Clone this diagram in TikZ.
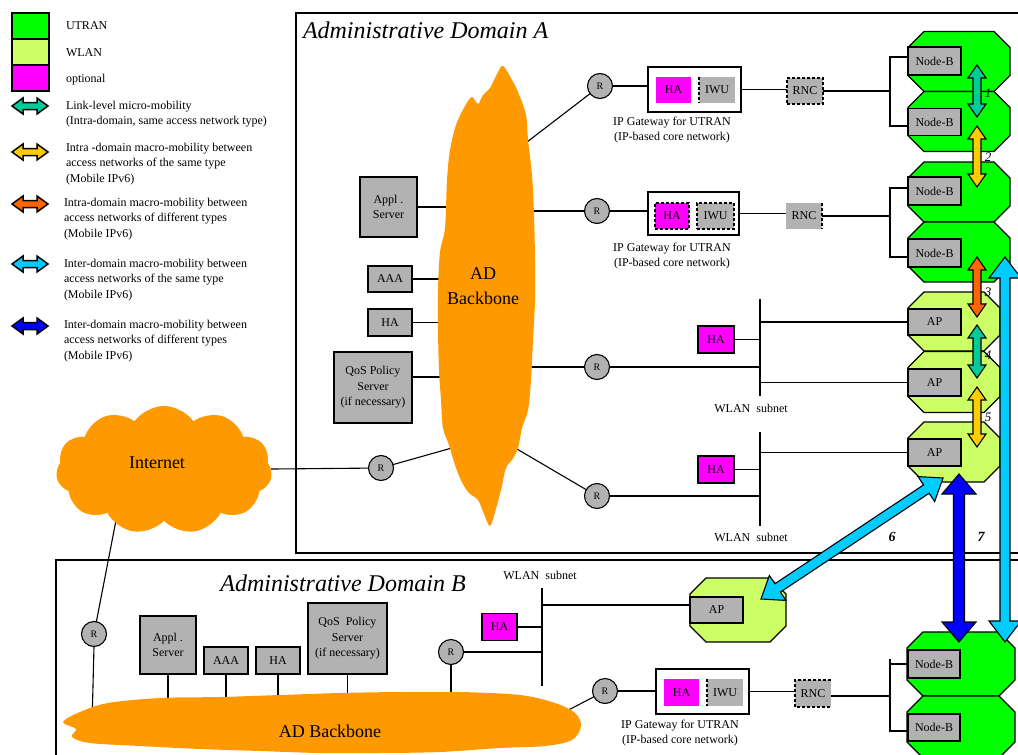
\documentclass[tikz,border=0pt]{standalone}
\usepackage{fontspec}
\setmainfont{Liberation Serif}
\usetikzlibrary{calc,shapes.symbols}

\definecolor{utran}{RGB}{0,255,0}
\definecolor{wlan}{RGB}{204,255,102}
\definecolor{optc}{RGB}{255,0,255}
\definecolor{srvgray}{RGB}{178,178,178}
\definecolor{bbone}{RGB}{255,153,0}
\definecolor{mteal}{RGB}{0,204,153}
\definecolor{myellow}{RGB}{255,204,0}
\definecolor{morange}{RGB}{255,102,0}
\definecolor{msky}{RGB}{0,204,255}
\definecolor{mblue}{RGB}{0,0,255}

\newcommand\lblfont{\fontsize{12}{15.5}\selectfont}
\newcommand\rtrfont{\fontsize{10}{12}\selectfont}
\newcommand\cloudfont{\fontsize{18}{25}\selectfont}
\newcommand\domfont{\fontsize{24}{28}\selectfont\itshape}
\newcommand\numfont{\fontsize{13}{15}\selectfont\itshape}
\newcommand\bnumfont{\fontsize{14}{16}\selectfont\itshape\bfseries}

\pgfdeclarelayer{wires}
\pgfdeclarelayer{clouds}
\pgfsetlayers{wires,clouds,main}

% block double arrow between two named points:
% #1 outline width, #2 fill, #3 from, #4 to, #5 shaft half-width, #6 head half-width, #7 head length
\newcommand\mobarrow[7]{%
  \coordinate (mP) at ($(#3)!#7!(#4)$);
  \coordinate (mQ) at ($(#4)!#7!(#3)$);
  \draw[line width=#1,fill=#2,line join=miter]
    (#3) -- ($(mP)!#6!90:(#4)$) -- ($(mP)!#5!90:(#4)$)
    -- ($(mQ)!#5!-90:(#3)$) -- ($(mQ)!#6!-90:(#3)$) -- (#4)
    -- ($(mQ)!#6!90:(#3)$) -- ($(mQ)!#5!90:(#3)$)
    -- ($(mP)!#5!-90:(#4)$) -- ($(mP)!#6!-90:(#4)$) -- cycle;}

% radio cell outline: octagon inscribed in the frame of node #1, fill #2, corner cut #3
\newcommand\cellshape[3]{%
  \draw[line width=1.1pt,fill=#2,line join=miter]
    ($(#1.north west)+(#3,0)$) -- ($(#1.north east)+(-#3,0)$)
    -- ($(#1.north east)+(0,#3)$) -- ($(#1.south east)+(0,-#3)$)
    -- ($(#1.south east)+(-#3,0)$) -- ($(#1.south west)+(#3,0)$)
    -- ($(#1.south west)+(0,-#3)$) -- ($(#1.north west)+(0,#3)$) -- cycle;}

\begin{document}
\begin{tikzpicture}[x=1pt,y=-1pt,
  every node/.style={inner sep=0pt,outer sep=0pt},
  sz/.style 2 args={minimum width=#1,minimum height=#2},
  srv/.style={draw,line width=1.1pt,fill=srvgray,font=\lblfont,align=center},
  optbox/.style={draw,line width=1.1pt,fill=optc,font=\lblfont},
  optflat/.style={fill=optc,font=\lblfont},
  flat/.style={fill=srvgray,font=\lblfont},
  dashbox/.style={draw,line width=1.6pt,dash pattern=on 3pt off 2pt},
  dashedge/.style={line width=1.6pt,dash pattern=on 3pt off 2pt},
  gw/.style={draw,line width=1.1pt,fill=white},
  rtr/.style={circle,draw,line width=1.1pt,fill=srvgray,minimum size=25pt,font=\rtrfont},
  cellframe/.style={rectangle},
  wire/.style={line width=1.1pt},
  txt/.style={font=\lblfont,align=center},
  leg/.style={font=\lblfont,align=left,anchor=west},
  frame/.style={line width=1.3pt},
  keybox/.style={draw,line width=1.5pt,minimum width=37pt,minimum height=26pt},
  num/.style={font=\numfont},
  bnum/.style={font=\bnumfont},
]
\useasboundingbox (0,0) rectangle (1018,755);
\clip (0,0) rectangle (1018,755);

% ---------- key ----------
\node[keybox,fill=utran] (kU) at (30.5,26) {};
\node[keybox,fill=wlan] (kW) at (30.5,52) {};
\node[keybox,fill=optc] (kO) at (30.5,78) {};
\node[leg] (tU) at (66,26) {UTRAN};
\node[leg] (tW) at (66,53) {WLAN};
\node[leg] (tO) at (66,80) {optional};
\coordinate (k1a) at (12,106); \coordinate (k1b) at (48,106);
\coordinate (k2a) at (12,152); \coordinate (k2b) at (48,152);
\coordinate (k3a) at (12,204); \coordinate (k3b) at (48,204);
\coordinate (k4a) at (12,264); \coordinate (k4b) at (48,264);
\coordinate (k5a) at (12,326); \coordinate (k5b) at (48,326);
\mobarrow{1.5pt}{mteal}{k1a}{k1b}{3.5pt}{8pt}{11pt}
\mobarrow{1.5pt}{myellow}{k2a}{k2b}{3.5pt}{8pt}{11pt}
\mobarrow{1.5pt}{morange}{k3a}{k3b}{3.5pt}{8pt}{11pt}
\mobarrow{1.5pt}{msky}{k4a}{k4b}{3.5pt}{8pt}{11pt}
\mobarrow{1.5pt}{mblue}{k5a}{k5b}{3.5pt}{8pt}{11pt}
\node[leg] (t1) at (66,114) {Link-level micro-mobility\\(Intra-domain, same access network type)};
\node[leg] (t2) at (66,164) {Intra -domain macro-mobility between\\access networks of the same type\\(Mobile IPv6)};
\node[leg] (t3) at (64,219) {Intra-domain macro-mobility between\\access networks of different types\\(Mobile IPv6)};
\node[leg] (t4) at (64,280) {Inter-domain macro-mobility between\\access networks of the same type\\(Mobile IPv6)};
\node[leg] (t5) at (64,341) {Inter-domain macro-mobility between\\access networks of different types\\(Mobile IPv6)};

% ---------- domain frames ----------
\draw[frame] (296,13) rectangle (1040,553);
\draw[frame] (56,560) rectangle (1040,780);
\node[font=\domfont,anchor=west] (domA) at (303,30) {Administrative Domain A};
\node[font=\domfont] (domB) at (343,583) {Administrative Domain B};

% ---------- clouds ----------
\begin{pgfonlayer}{clouds}
\fill[bbone] plot[smooth cycle,tension=0.55] coordinates {
 (503,66) (512,80) (518,92) (526,115) (528,140) (532,175) (534,215) (535,260)
 (535,300) (533,340) (531,380) (528,410) (522,428) (518,448) (512,460) (506,468)
 (501,490) (495,512) (490,526) (484,514) (478,500) (468,492) (460,478) (454,462)
 (449,445) (443,428) (441,400) (439,370) (438,330) (438,290) (440,252) (445,228)
 (447,180) (450,150) (456,125) (465,106) (472,97) (478,104) (483,95) (490,88) (497,74)};
\fill[bbone] plot[smooth cycle,tension=0.55] coordinates {
 (63,722) (80,712) (108,703) (160,698) (220,697) (280,695) (340,693) (400,692)
 (460,692) (520,695) (555,703) (575,713) (581,726) (572,740) (545,746) (500,748)
 (440,752) (380,753) (320,753) (260,751) (200,749) (140,746) (90,743) (72,737) (76,729)};
\node[cloud,cloud puffs=11,cloud puff arc=110,aspect=1.7,fill=bbone,sz={216pt}{128pt}] (inet) at (164,470) {};
\end{pgfonlayer}
\node[font=\cloudfont] (inetT) at (157,463) {Internet};
\node[font=\cloudfont,align=center] (bbAT) at (483,286) {AD\\Backbone};
\node[font=\cloudfont] (bbBT) at (330,731) {AD Backbone};

% ---------- domain A: servers and routers ----------
\node[srv,sz={57pt}{60pt}] (asrvA) at (388.5,207) {Appl .\\Server};
\node[srv,sz={44pt}{26pt}] (aaaA) at (390,279) {AAA};
\node[srv,sz={44pt}{27pt}] (haA) at (390,322.5) {HA};
\node[srv,sz={78pt}{71pt}] (qosA) at (373,387.5) {QoS Policy\\Server\\(if necessary)};
\node[rtr] (rA1) at (600,86) {R};
\node[rtr] (rA2) at (597,211) {R};
\node[rtr] (rA3) at (597,367) {R};
\node[rtr] (rA4) at (597,496) {R};
\node[rtr] (rAi) at (381,468) {R};

% ---------- domain A: UTRAN gateways ----------
\node[gw,sz={93pt}{45pt}] (gwA1) at (694.5,89.5) {};
\node[optflat,sz={35pt}{26pt}] (haGA1) at (673.5,90) {HA};
\node[flat,sz={36pt}{26pt}] (iwuA1) at (717,90) {IWU};
\draw[dashedge] (iwuA1.north west) -- (iwuA1.south west);
\node[txt] (capA1) at (672,130) {IP Gateway for UTRAN\\(IP-based core network)};
\node[flat,dashbox,sz={36pt}{26pt}] (rncA1) at (805,91) {RNC};

\node[gw,sz={91pt}{43pt}] (gwA2) at (693.5,213.5) {};
\node[optflat,dashbox,sz={34pt}{26pt}] (haGA2) at (672,216) {HA};
\node[flat,dashbox,sz={37pt}{26pt}] (iwuA2) at (715.5,216) {IWU};
\node[txt] (capA2) at (672,256) {IP Gateway for UTRAN\\(IP-based core network)};
\node[flat,sz={36pt}{26pt}] (rncA2) at (804,216) {RNC};
\draw[dashedge] (rncA2.north east) -- (rncA2.south east);

% ---------- domain A: radio cells ----------
\node[cellframe,sz={102pt}{60pt}] (cA1) at (959,61.5) {};
\node[cellframe,sz={102pt}{60pt}] (cA2) at (959,121.5) {};
\node[cellframe,sz={102pt}{60pt}] (cA3) at (959,192) {};
\node[cellframe,sz={102pt}{60pt}] (cA4) at (959,252) {};
\node[cellframe,sz={92pt}{59pt}] (cW1) at (954,321.5) {};
\node[cellframe,sz={92pt}{61pt}] (cW2) at (954,382) {};
\node[cellframe,sz={92pt}{60pt}] (cW3) at (954,452) {};
\cellshape{cA1}{utran}{16}
\cellshape{cA2}{utran}{16}
\cellshape{cA3}{utran}{16}
\cellshape{cA4}{utran}{16}
\cellshape{cW1}{wlan}{16}
\cellshape{cW2}{wlan}{16}
\cellshape{cW3}{wlan}{16}
\node[srv,sz={53pt}{28pt}] (nbA1) at (934.5,61) {Node-B};
\node[srv,sz={53pt}{27pt}] (nbA2) at (934.5,122) {Node-B};
\node[srv,sz={53pt}{28pt}] (nbA3) at (934.5,191) {Node-B};
\node[srv,sz={53pt}{28pt}] (nbA4) at (934.5,253) {Node-B};
\node[srv,sz={53pt}{26pt}] (apA1) at (934.5,322) {AP};
\node[srv,sz={53pt}{27pt}] (apA2) at (934.5,382.5) {AP};
\node[srv,sz={53pt}{27pt}] (apA3) at (934.5,452.5) {AP};

% ---------- domain A: WLAN subnets ----------
\node[optbox,sz={36pt}{27pt}] (haW1) at (716,339.5) {HA};
\node[optbox,sz={36pt}{27pt}] (haW2) at (716,469.5) {HA};
\node[txt] (wsA1) at (751,408) {WLAN\enspace subnet};
\node[txt] (wsA2) at (751,537) {WLAN\enspace subnet};

% ---------- domain B ----------
\node[srv,sz={56pt}{58pt}] (asrvB) at (168,645) {Appl .\\Server};
\node[srv,sz={44pt}{27pt}] (aaaB) at (226,660.5) {AAA};
\node[srv,sz={44pt}{27pt}] (haB) at (278,660.5) {HA};
\node[srv,sz={79pt}{71pt}] (qosB) at (347.5,638.5) {QoS\enspace Policy\\Server\\(if necessary)};
\node[rtr] (rB1) at (94,634) {R};
\node[rtr] (rB2) at (451,652) {R};
\node[rtr] (rB3) at (605,691) {R};
\node[optbox,sz={35pt}{27pt}] (haWB) at (499.5,627) {HA};
\node[txt] (wsB) at (540,575) {WLAN\enspace subnet};
\node[cellframe,sz={96pt}{64pt}] (cWB) at (738,610) {};
\cellshape{cWB}{wlan}{16}
\node[srv,sz={53pt}{26pt}] (apB) at (716.5,610) {AP};

\node[gw,sz={93pt}{45pt}] (gwB) at (702.5,691.5) {};
\node[optflat,sz={35pt}{27pt}] (haGB) at (681.5,692.5) {HA};
\node[flat,sz={36pt}{27pt}] (iwuB) at (725,692.5) {IWU};
\draw[dashedge] (iwuB.north west) -- (iwuB.south west);
\node[txt] (capB) at (680,733) {IP Gateway for UTRAN\\(IP-based core network)};
\node[flat,sz={36pt}{27pt}] (rncB) at (813,693.5) {RNC};
\draw[dashedge] (rncB.north east) -- (rncB.north west) -- (rncB.south west) -- (rncB.south east);
\node[cellframe,sz={108pt}{64pt}] (cB1) at (961,664) {};
\node[cellframe,sz={108pt}{62pt}] (cB2) at (961,727) {};
\cellshape{cB1}{utran}{16}
\cellshape{cB2}{utran}{16}
\node[srv,sz={52pt}{28pt}] (nbB1) at (934,664) {Node-B};
\node[srv,sz={52pt}{27pt}] (nbB2) at (934,727.5) {Node-B};

% ---------- links ----------
\coordinate (jAs) at (460,207);  \coordinate (jAaaa) at (460,279);
\coordinate (jAha) at (460,322.5); \coordinate (jAqos) at (460,377);
\coordinate (jAr1) at (514,152); \coordinate (jAr2) at (515,211);
\coordinate (jAr3) at (515,367); \coordinate (jAr4) at (505,442);
\coordinate (jAi) at (466,444);
\coordinate (jBy) at (0,712);
\coordinate (jBr1) at (92,725); \coordinate (jBr3) at (555,717);
\coordinate (inetB) at (118,510);
\coordinate (brA1) at (890,91); \coordinate (brA1t) at (890,57); \coordinate (brA1b) at (890,126);
\coordinate (brA2) at (890,216); \coordinate (brA2t) at (890,188); \coordinate (brA2b) at (890,257);
\coordinate (brB) at (890,696); \coordinate (brBt) at (890,659); \coordinate (brBb) at (890,731);
\coordinate (busA1t) at (760,299); \coordinate (busA1b) at (760,396);
\coordinate (busA2t) at (760,432); \coordinate (busA2b) at (760,526);
\coordinate (busBt) at (542,588); \coordinate (busBb) at (542,686);
\coordinate (apBy) at (0,605);

\begin{pgfonlayer}{wires}
\draw[wire] (asrvA.east) -- (jAs);
\draw[wire] (aaaA.east) -- (jAaaa);
\draw[wire] (haA.east) -- (jAha);
\draw[wire] (qosA.east |- jAqos) -- (jAqos);
\draw[wire] (jAr1) -- (rA1);
\draw[wire] (jAr2) -- (rA2);
\draw[wire] (jAr3) -- (rA3);
\draw[wire] (jAr4) -- (rA4);
\draw[wire] (jAi) -- (rAi);
\draw[wire] (inet) -- (rAi);
\draw[wire] (inetB) -- (rB1);
% UTRAN branches in domain A
\draw[wire] (rA1) -- (rA1 -| gwA1.west);
\draw[wire] (gwA1.east) -- (gwA1.east -| rncA1.west);
\draw[wire] (rncA1.east) -- (brA1);
\draw[wire] (nbA1.west |- brA1t) -- (brA1t) -- (brA1b) -- (nbA2.west |- brA1b);
\draw[wire] (rA2) -- (rA2 -| gwA2.west);
\draw[wire] (gwA2.east) -- (gwA2.east -| rncA2.west);
\draw[wire] (rncA2.east) -- (brA2);
\draw[wire] (nbA3.west |- brA2t) -- (brA2t) -- (brA2b) -- (nbA4.west |- brA2b);
% WLAN subnets in domain A
\draw[wire] (busA1t) -- (busA1b);
\draw[wire] (busA1t |- apA1.west) -- (apA1.west);
\draw[wire] (busA1t |- apA2.west) -- (apA2.west);
\draw[wire] (haW1.east) -- (haW1.east -| busA1t);
\draw[wire] (rA3) -- (rA3 -| busA1t);
\draw[wire] (busA2t) -- (busA2b);
\draw[wire] (busA2t |- apA3.west) -- (apA3.west);
\draw[wire] (haW2.east) -- (haW2.east -| busA2t);
\draw[wire] (rA4) -- (rA4 -| busA2t);
% domain B
\draw[wire] (asrvB.south) -- (asrvB.south |- jBy);
\draw[wire] (aaaB.south) -- (aaaB.south |- jBy);
\draw[wire] (haB.south) -- (haB.south |- jBy);
\draw[wire] (qosB.south) -- (qosB.south |- jBy);
\draw[wire] (rB2.south) -- (rB2.south |- jBy);
\draw[wire] (rB1.south) -- (jBr1);
\draw[wire] (busBt) -- (busBb);
\draw[wire] (haWB.east) -- (haWB.east -| busBt);
\draw[wire] (rB2) -- (rB2 -| busBt);
\draw[wire] (busBt |- apBy) -- (cWB.west |- apBy);
\draw[wire] (jBr3) -- (rB3);
\draw[wire] (rB3) -- (rB3 -| gwB.west);
\draw[wire] (gwB.east) -- (gwB.east -| rncB.west);
\draw[wire] (rncB.east |- brB) -- (brB);
\draw[wire] (nbB1.west) -- (nbB1.west -| brBt);
\draw[wire] (brBt) -- (brBb) -- (nbB2.west |- brBb);
\end{pgfonlayer}

% ---------- mobility arrows ----------
\coordinate (m1a) at (977,65);  \coordinate (m1b) at (977,117);
\coordinate (m2a) at (977,126); \coordinate (m2b) at (977,187);
\coordinate (m3a) at (977,257); \coordinate (m3b) at (977,317);
\coordinate (m4a) at (977,325); \coordinate (m4b) at (977,378);
\coordinate (m5a) at (977,387); \coordinate (m5b) at (977,447);
\mobarrow{1.1pt}{mteal}{m1a}{m1b}{4pt}{9pt}{13pt}
\mobarrow{1.1pt}{myellow}{m2a}{m2b}{4pt}{9pt}{13pt}
\mobarrow{1.1pt}{morange}{m3a}{m3b}{4pt}{9pt}{13pt}
\mobarrow{1.1pt}{mteal}{m4a}{m4b}{4pt}{9pt}{13pt}
\mobarrow{1.1pt}{myellow}{m5a}{m5b}{4pt}{9pt}{13pt}
\node[num] (n1) at (988,93) {1};
\node[num] (n2) at (988,157) {2};
\node[num] (n3) at (988,292) {3};
\node[num] (n4) at (988,355) {4};
\node[num] (n5) at (988,417) {5};

\coordinate (m6a) at (761,599); \coordinate (m6b) at (943,478);
\coordinate (m7a) at (959,474); \coordinate (m7b) at (959,642);
\coordinate (m8a) at (1005,257); \coordinate (m8b) at (1005,642);
\mobarrow{1.1pt}{msky}{m8a}{m8b}{5pt}{16pt}{21pt}
\mobarrow{1.1pt}{mblue}{m7a}{m7b}{5.5pt}{17pt}{20pt}
\mobarrow{1.1pt}{msky}{m6a}{m6b}{5pt}{15pt}{20pt}
\node[bnum] (n6) at (892,537) {6};
\node[bnum] (n7) at (981,537) {7};
\end{tikzpicture}
\end{document}
